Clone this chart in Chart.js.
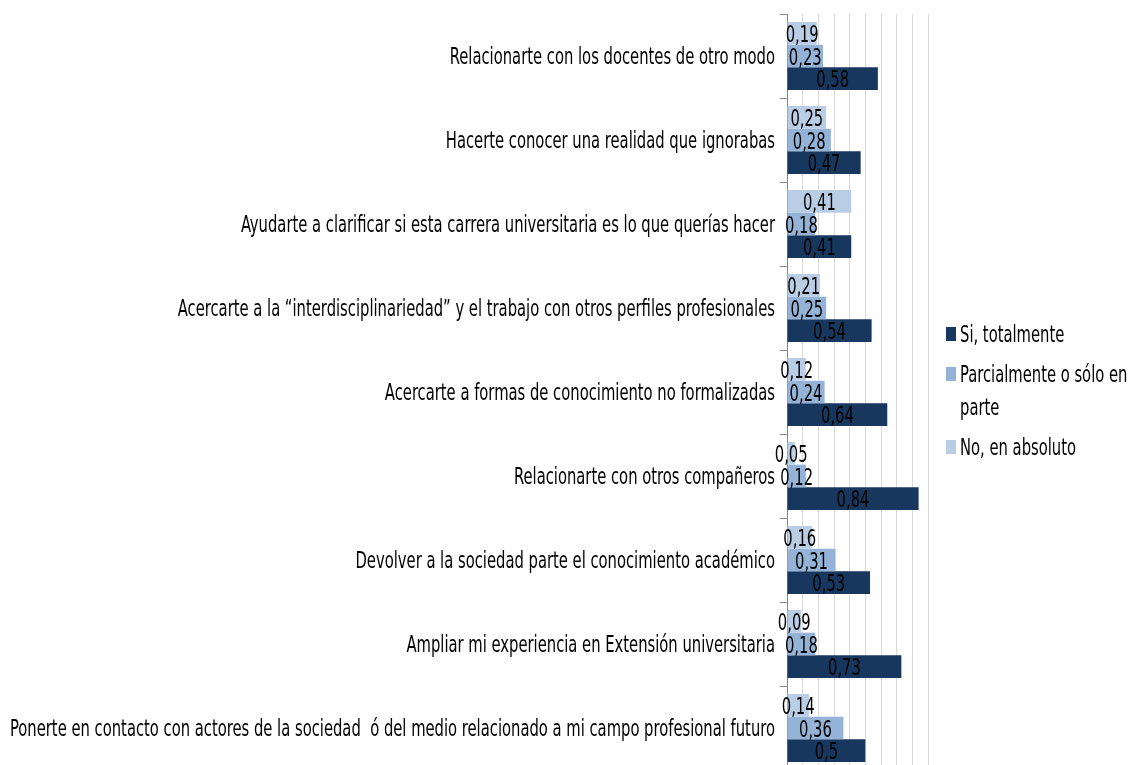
<!DOCTYPE html>
<html>
<head>
<meta charset="utf-8">
<script src="https://cdn.jsdelivr.net/npm/chart.js@4/dist/chart.umd.min.js"></script>
<style>
  html, body { margin: 0; padding: 0; background: #fff; overflow: hidden; }
  canvas { display: block; }
</style>
</head>
<body>
<canvas id="chart" width="1131" height="800"></canvas>
<script>
const categories = [
    "Relacionarte con los docentes de otro modo",
    "Hacerte conocer una realidad que ignorabas",
    "Ayudarte a clarificar si esta carrera universitaria es lo que querías hacer",
    "Acercarte a la “interdisciplinariedad” y el trabajo con otros perfiles profesionales",
    "Acercarte a formas de conocimiento no formalizadas",
    "Relacionarte con otros compañeros",
    "Devolver a la sociedad parte el conocimiento académico",
    "Ampliar mi experiencia en Extensión universitaria",
    "Ponerte en contacto con actores de la sociedad  ó del medio relacionado a mi campo profesional futuro"
];
const siValues      = [0.58, 0.47, 0.41, 0.54, 0.64, 0.84, 0.53, 0.73, 0.5];
const parcialValues = [0.23, 0.28, 0.18, 0.25, 0.24, 0.12, 0.31, 0.18, 0.36];
const noValues      = [0.19, 0.25, 0.41, 0.21, 0.12, 0.05, 0.16, 0.09, 0.14];
const seriesNames   = ["Si, totalmente", "Parcialmente o sólo en parte", "No, en absoluto"];
const xTicks = { min: 0, max: 0.9, step: 0.1 };

const FONT = '23px "DejaVu Sans Condensed", "DejaVu Sans", sans-serif';
let squeeze = 0.71; // text in the original is narrowed horizontally

function drawNarrow(ctx, txt, x, y, align) {
    ctx.save();
    ctx.translate(x, y);
    ctx.scale(squeeze, 1);
    ctx.textAlign = align;
    ctx.textBaseline = 'alphabetic';
    ctx.fillText(txt, 0, 0);
    ctx.restore();
}

// labels, values and legend all drawn with the squeezed font
const textPlugin = {
    id: 'narrowText',
    beforeDraw(chart) {
        let ctx = chart.ctx;
        ctx.save();
        ctx.font = FONT;
        // longest label spans about 765px in the reference
        squeeze = 765 / ctx.measureText(categories[8]).width;
        ctx.restore();
    },
    afterDatasetsDraw(chart) {
        let ctx = chart.ctx;
        ctx.save();
        ctx.font = FONT;
        ctx.fillStyle = '#000';
        chart.data.datasets.forEach(function(ds, i){
            chart.getDatasetMeta(i).data.forEach(function(bar, j){
                let txt = String(ds.data[j]).replace('.', ',');
                drawNarrow(ctx, txt, (bar.x + bar.base) / 2, bar.y + 8.5, 'center');
            });
        });
        ctx.restore();
    },
    afterDraw(chart) {
        let ctx = chart.ctx;
        let yScale = chart.scales.y;
        ctx.save();
        ctx.font = FONT;
        ctx.fillStyle = '#000';
        categories.forEach(function(c, i){
            drawNarrow(ctx, c, chart.chartArea.left - 12, yScale.getPixelForValue(i) + 8, 'right');
        });

        // legend on the right, reversed order like the original
        let y = 342;
        let items = chart.data.datasets.slice().reverse();
        items.forEach(function(ds){
            ctx.fillStyle = ds.backgroundColor;
            ctx.fillRect(946, y - 15, 10, 14);
            ctx.fillStyle = '#000';
            let words = ds.label.split(' ');
            let lines = [];
            let cur = '';
            words.forEach(function(w){
                let test = cur ? cur + ' ' + w : w;
                if (cur && ctx.measureText(test).width * squeeze > 170) {
                    lines.push(cur);
                    cur = w;
                } else {
                    cur = test;
                }
            });
            lines.push(cur);
            lines.forEach(function(l, k){
                drawNarrow(ctx, l, 960, y, 'left');
                if (k < lines.length - 1) { y += 33; }
            });
            y += 40;
        });
        ctx.restore();
    }
};

let chart = new Chart(document.getElementById('chart'), {
    type: 'bar',
    data: {
        labels: categories,
        datasets: [
            { label: seriesNames[2], data: noValues, backgroundColor: '#B9CDE5' },
            { label: seriesNames[1], data: parcialValues, backgroundColor: '#95B3D7' },
            { label: seriesNames[0], data: siValues, backgroundColor: '#17375E' }
        ]
    },
    options: {
        indexAxis: 'y',
        responsive: false,
        maintainAspectRatio: false,
        animation: false,
        categoryPercentage: 0.81,
        barPercentage: 1,
        layout: { padding: { left: 780, right: 203, top: 14, bottom: 30 } },
        plugins: {
            legend: { display: false },
            tooltip: { enabled: false }
        },
        scales: {
            x: {
                min: xTicks.min,
                max: xTicks.max,
                ticks: { display: false, stepSize: xTicks.step },
                grid: { color: '#D9D9D9', drawTicks: false },
                border: { display: false },
                afterFit: function(s){ s.height = 0; }
            },
            y: {
                ticks: { display: false },
                grid: { drawOnChartArea: false, drawTicks: true, tickLength: 7, color: '#868686', offset: true },
                border: { color: '#868686', width: 1 },
                afterFit: function(s){ s.width = 7; }
            }
        }
    },
    plugins: [textPlugin]
});
</script>
</body>
</html>
